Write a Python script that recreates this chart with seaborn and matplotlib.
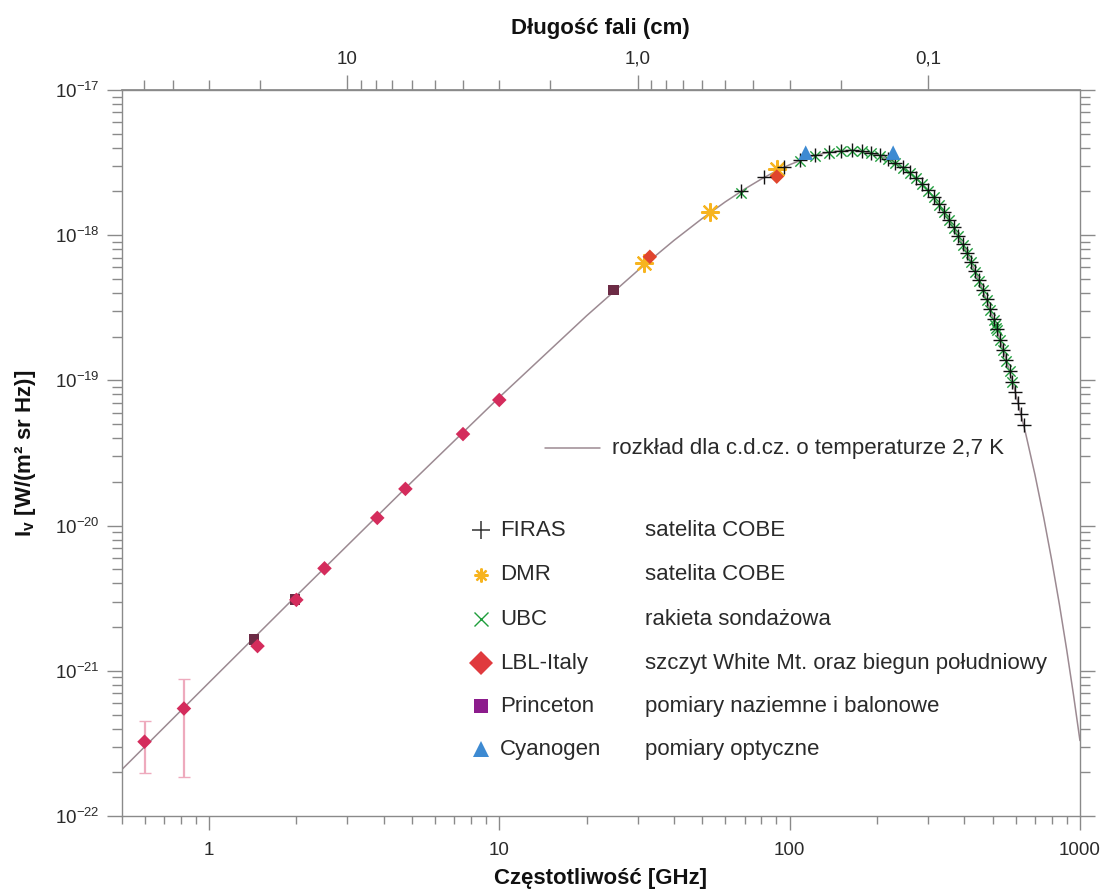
import numpy as np
import matplotlib
matplotlib.use("Agg")
import matplotlib.pyplot as plt
import matplotlib.ticker as mticker
import seaborn as sns

sns.set_theme(style="white")
plt.rcParams["font.family"] = ["Liberation Sans", "DejaVu Sans"]
plt.rcParams["mathtext.fontset"] = "custom"
plt.rcParams["mathtext.rm"] = "Liberation Sans"
plt.rcParams["mathtext.it"] = "Liberation Sans:italic"
plt.rcParams["mathtext.bf"] = "Liberation Sans:bold"

# krzywa c.d.cz. 2,7 K
curve_ghz = [0.5, 1, 2, 5, 10, 20, 30, 40, 50, 60, 70, 80, 90, 100, 110, 120,
             130, 140, 150, 160, 170, 180, 200, 225, 250, 275, 300, 350, 400,
             450, 500, 550, 600, 650, 700, 750, 800, 850, 900, 950, 1000]
curve_int = [2.08e-22, 8.29e-22, 3.29e-21, 2.00e-20, 7.65e-20, 2.79e-19,
             5.71e-19, 9.22e-19, 1.303e-18, 1.695e-18, 2.078e-18, 2.439e-18,
             2.771e-18, 3.056e-18, 3.300e-18, 3.498e-18, 3.647e-18, 3.752e-18,
             3.812e-18, 3.832e-18, 3.815e-18, 3.765e-18, 3.584e-18, 3.252e-18,
             2.851e-18, 2.433e-18, 2.028e-18, 1.331e-18, 8.23e-19, 4.85e-19,
             2.76e-19, 1.52e-19, 8.19e-20, 4.32e-20, 2.24e-20, 1.14e-20,
             5.73e-21, 2.85e-21, 1.40e-21, 6.84e-22, 3.31e-22]

firas_ghz = [68.1, 81.7, 95.3, 109.0, 122.6, 136.2, 149.8, 163.4, 177.1, 190.7,
             204.3, 217.9, 231.5, 245.2, 258.8, 272.4, 286.0, 299.6, 313.3,
             326.9, 340.5, 354.1, 367.7, 381.4, 395.0, 408.6, 422.2, 435.8,
             449.5, 463.1, 476.7, 490.3, 503.9, 517.6, 531.2, 544.8, 558.4,
             572.0, 585.7, 599.3, 612.9, 626.5, 640.1]
firas_int = [2.01e-18, 2.50e-18, 2.93e-18, 3.28e-18, 3.55e-18, 3.72e-18,
             3.82e-18, 3.84e-18, 3.79e-18, 3.69e-18, 3.54e-18, 3.36e-18,
             3.15e-18, 2.94e-18, 2.71e-18, 2.48e-18, 2.25e-18, 2.04e-18,
             1.83e-18, 1.63e-18, 1.45e-18, 1.28e-18, 1.13e-18, 9.91e-19,
             8.66e-19, 7.54e-19, 6.55e-19, 5.67e-19, 4.89e-19, 4.21e-19,
             3.61e-19, 3.09e-19, 2.64e-19, 2.25e-19, 1.91e-19, 1.62e-19,
             1.38e-19, 1.16e-19, 9.82e-20, 8.28e-20, 6.97e-20, 5.85e-20,
             4.91e-20]

ubc_ghz = [68.1, 109.0, 122.6, 136.2, 149.8, 163.4, 177.1, 190.7, 204.3, 217.9,
           231.5, 245.2, 258.8, 272.4, 286.0, 299.6, 313.3, 326.9, 340.5,
           354.1, 367.7, 381.4, 395.0, 408.6, 422.2, 435.8, 449.5, 463.1,
           476.7, 490.3, 503.9, 508.0, 512.0, 517.6, 531.2, 544.8, 558.4,
           572.0, 585.7]
ubc_int = [1.95e-18, 3.26e-18, 3.53e-18, 3.70e-18, 3.80e-18, 3.82e-18,
           3.77e-18, 3.67e-18, 3.52e-18, 3.34e-18, 3.13e-18, 2.92e-18,
           2.69e-18, 2.47e-18, 2.24e-18, 2.03e-18, 1.82e-18, 1.62e-18,
           1.44e-18, 1.27e-18, 1.12e-18, 9.85e-19, 8.60e-19, 7.50e-19,
           6.50e-19, 5.62e-19, 4.85e-19, 4.17e-19, 3.58e-19, 3.07e-19,
           2.62e-19, 2.40e-19, 2.30e-19, 2.23e-19, 1.90e-19, 1.61e-19,
           1.37e-19, 1.16e-19, 9.75e-20]

dmr_ghz = [31.5, 53.0, 90.5]
dmr_int = [6.4e-19, 1.44e-18, 2.86e-18]

lbl_ghz = [0.60, 0.82, 1.47, 2.0, 2.5, 3.8, 4.75, 7.5, 10.0, 33.0, 90.3]
lbl_int = [3.25e-22, 5.5e-22, 1.48e-21, 3.08e-21, 5.08e-21, 1.13e-20,
           1.79e-20, 4.27e-20, 7.33e-20, 7.1e-19, 2.53e-18]
err_ghz = [0.60, 0.82]
err_int = [3.25e-22, 5.5e-22]
err_low = [1.97e-22, 1.87e-22]
err_high = [4.51e-22, 8.79e-22]

princeton_ghz = [1.43, 1.98, 24.7]
princeton_int = [1.65e-21, 3.1e-21, 4.2e-19]

cyanogen_ghz = [113.6, 227.3]
cyanogen_int = [3.7e-18, 3.7e-18]

y_ticks = [1e-22, 1e-21, 1e-20, 1e-19, 1e-18, 1e-17]
x_ticks = [1, 10, 100, 1000]
top_major = [10, 1, 0.1]
top_labels = ["10", "1,0", "0,1"]
top_minor = [50, 40, 30, 20, 9, 8, 7, 6, 5, 4, 3, 2,
             0.9, 0.8, 0.7, 0.6, 0.5, 0.4, 0.3, 0.2]

grey = "#8a8a8a"
text_col = "#2a2a2a"

fig = plt.figure(figsize=(11.03, 8.90), dpi=100)
ax = fig.add_axes([0.1102, 0.0831, 0.8689, 0.8158])
ax.set_xscale("log")
ax.set_yscale("log")

sns.lineplot(x=curve_ghz, y=curve_int, ax=ax, color="#9c8a92", lw=1.1,
             sort=False, zorder=2)

ax.errorbar(err_ghz, err_int,
            yerr=[np.subtract(err_int, err_low), np.subtract(err_high, err_int)],
            fmt="none", ecolor="#eeaabd", elinewidth=1.6, capsize=4, zorder=2)

sns.scatterplot(x=lbl_ghz[:9], y=lbl_int[:9], ax=ax, marker="D", s=55,
                color="#d42c5c", edgecolor="none", zorder=4)
sns.scatterplot(x=lbl_ghz[9:], y=lbl_int[9:], ax=ax, marker="D", s=55,
                color="#e0452e", edgecolor="none", zorder=4)
sns.scatterplot(x=princeton_ghz, y=princeton_int, ax=ax, marker="s", s=60,
                color="#6c2b45", edgecolor="none", zorder=3)
sns.scatterplot(x=dmr_ghz, y=dmr_int, ax=ax, marker=(8, 2, 0), s=150,
                color="#f7b41f", linewidth=1.6, zorder=3)
sns.scatterplot(x=ubc_ghz, y=ubc_int, ax=ax, marker="x", s=55,
                color="#1f9e3c", linewidth=1.0, zorder=5)
sns.scatterplot(x=firas_ghz, y=firas_int, ax=ax, marker="+", s=90,
                color="#111111", linewidth=1.0, zorder=6)
sns.scatterplot(x=cyanogen_ghz, y=cyanogen_int, ax=ax, marker="^", s=110,
                color="#3d8ad2", edgecolor="none", zorder=7)

for side in ["left", "right", "bottom", "top"]:
    ax.spines[side].set_color(grey)
    ax.spines[side].set_linewidth(1.0)

ax.set_xticks(x_ticks)
ax.set_yticks(y_ticks)
ax.set_xlim(0.5, 1000)
ax.set_ylim(1e-22, 1e-17)
ax.xaxis.set_major_formatter(mticker.FuncFormatter(lambda v, p: f"{v:g}"))
ax.xaxis.set_minor_locator(mticker.LogLocator(base=10, subs=np.arange(2, 10)))
ax.xaxis.set_minor_formatter(mticker.NullFormatter())
ax.yaxis.set_minor_locator(mticker.LogLocator(base=10, subs=np.arange(2, 10)))
ax.yaxis.set_minor_formatter(mticker.NullFormatter())
ax.tick_params(axis="both", which="both", direction="out", color=grey,
               labelcolor=text_col, labelsize=13.5)
ax.tick_params(axis="x", which="both", bottom=True, top=False)
ax.tick_params(axis="x", which="major", length=10, width=1, pad=9)
ax.tick_params(axis="x", which="minor", length=6, width=1)
ax.tick_params(axis="y", which="both", left=True, right=True)
ax.tick_params(axis="y", which="major", length=11, width=1, pad=5)
ax.tick_params(axis="y", which="minor", length=7, width=1)

ax.set_xlabel("Częstotliwość [GHz]", fontsize=16, fontweight="bold",
              color="#111111", labelpad=6)
ax.set_ylabel(r"I$_\mathbf{v}$ [W/(m² sr Hz)]", fontsize=16,
              fontweight="bold", color="#111111", labelpad=12)


def to_cm(f):
    f = np.asarray(f, dtype=float)
    with np.errstate(divide="ignore", invalid="ignore"):
        return 29.98 / f


secax = ax.secondary_xaxis("top", functions=(to_cm, to_cm))
secax.set_xticks(top_major)
secax.set_xticklabels(top_labels)
secax.xaxis.set_minor_locator(mticker.FixedLocator(top_minor))
secax.xaxis.set_minor_formatter(mticker.NullFormatter())
secax.tick_params(which="both", direction="out", color=grey,
                  labelcolor=text_col, labelsize=13.5)
secax.tick_params(which="major", length=11, width=1, pad=5)
secax.tick_params(which="minor", length=7, width=1)
secax.spines["top"].set_color(grey)
secax.set_xlabel("Długość fali (cm)", fontsize=16, fontweight="bold",
                 color="#111111", labelpad=12)

# legenda
tr = ax.transAxes
ax.plot([0.4418, 0.4992], [0.5069, 0.5069], color="#9c8a92", lw=1.1,
        transform=tr)
ax.text(0.5117, 0.5069, "rozkład dla c.d.cz. o temperaturze 2,7 K",
        transform=tr, fontsize=16, color=text_col, va="center")

rows = [
    ("FIRAS", "satelita COBE", dict(marker="+", color="#333333", ms=13, mew=1.1)),
    ("DMR", "satelita COBE", dict(marker=(8, 2, 0), color="#f7b41f", ms=10, mew=1.6)),
    ("UBC", "rakieta sondażowa", dict(marker="x", color="#1f9e3c", ms=10, mew=1.0)),
    ("LBL-Italy", "szczyt White Mt. oraz biegun południowy",
     dict(marker="D", color="#e03a3e", ms=12, mew=0)),
    ("Princeton", "pomiary naziemne i balonowe",
     dict(marker="s", color="#8c1c8c", ms=10, mew=0)),
    ("Cyanogen", "pomiary optyczne", dict(marker="^", color="#3d8ad2", ms=11, mew=0)),
]
row_y = [0.3939, 0.3320, 0.2713, 0.2107, 0.1515, 0.0923]
for (name, desc, style), yy in zip(rows, row_y):
    ax.plot([0.375], [yy], linestyle="none", transform=tr, **style)
    ax.text(0.3948, yy, name, transform=tr, fontsize=16, color=text_col,
            va="center")
    ax.text(0.5462, yy, desc, transform=tr, fontsize=16, color=text_col,
            va="center")

fig.savefig("out.png", dpi=100, facecolor="white")
